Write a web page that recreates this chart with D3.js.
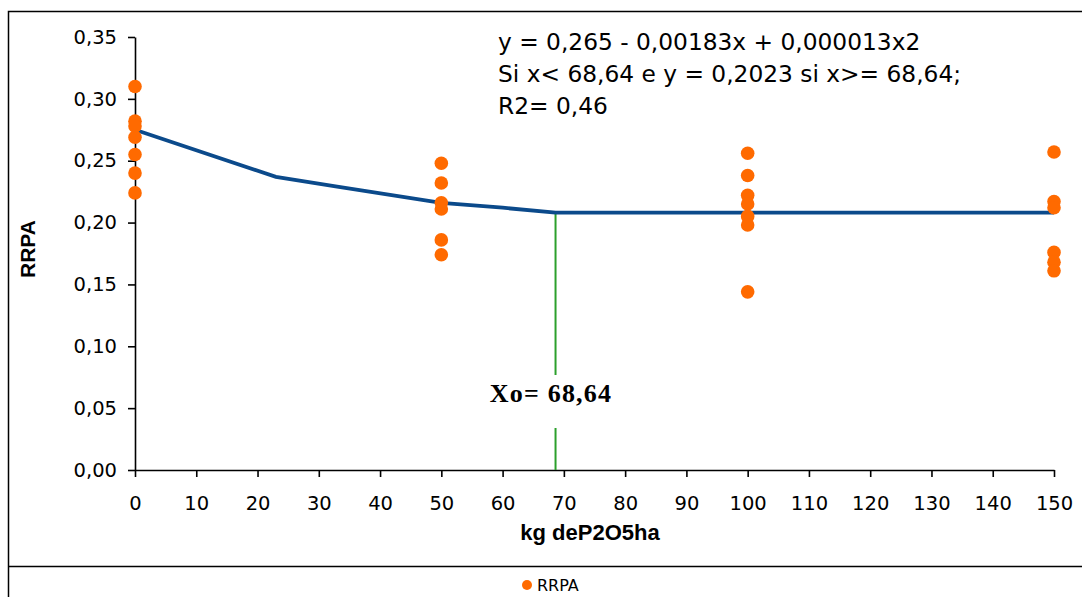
<!DOCTYPE html>
<html>
<head>
<meta charset="utf-8">
<script src="https://cdn.jsdelivr.net/npm/d3@7"></script>
<style>
  html, body { margin: 0; padding: 0; background: #fff; }
  svg { display: block; }
</style>
</head>
<body>
<svg id="chart" width="1082" height="597"></svg>
<script>
// Observed RRPA per P2O5 dose (kg/ha)
const dose0   = [0.310, 0.282, 0.278, 0.269, 0.255, 0.240, 0.224];
const dose50  = [0.248, 0.232, 0.216, 0.211, 0.186, 0.174];
const dose100 = [0.256, 0.238, 0.222, 0.215, 0.205, 0.198, 0.144];
const dose150 = [0.257, 0.217, 0.212, 0.176, 0.168, 0.161];
const doses   = [0, 50, 100, 150];

// Fitted quadratic-plateau response curve
const fitX = [0, 23, 33, 50, 60, 68.64, 150];
const fitY = [0.275, 0.237, 0.229, 0.216, 0.212, 0.208, 0.208];
const breakpoint = 68.64;

const yTicks = [0, 0.05, 0.10, 0.15, 0.20, 0.25, 0.30, 0.35];
const xTicks = [0, 10, 20, 30, 40, 50, 60, 70, 80, 90, 100, 110, 120, 130, 140, 150];

const equationLines = [
  "y = 0,265 - 0,00183x + 0,000013x2",
  "Si x< 68,64 e y = 0,2023 si x>= 68,64;",
  "R2= 0,46"
];

const svg = d3.select("#chart");
const W = 1082, H = 597;

const x = d3.scaleLinear().domain([0, 150]).range([135, 1054]);
const y = d3.scaleLinear().domain([0, 0.35]).range([470, 37]);

const fmt = v => d3.format(".2f")(v).replace(".", ",");

// Outer frame and legend separator
svg.append("path")
  .attr("d", `M8.5,${H} V11.5 H${W}`)
  .attr("fill", "none").attr("stroke", "#000").attr("stroke-width", 1.5);
svg.append("line")
  .attr("x1", 8).attr("x2", W).attr("y1", 566.5).attr("y2", 566.5)
  .attr("stroke", "#000").attr("stroke-width", 1.5);

// Axes
const yAxis = svg.append("g")
  .attr("transform", "translate(135,0)")
  .call(d3.axisLeft(y).tickValues(yTicks).tickFormat(fmt).tickSize(7).tickSizeOuter(0).tickPadding(11));
const xAxis = svg.append("g")
  .attr("transform", "translate(0,470)")
  .call(d3.axisBottom(x).tickValues(xTicks).tickFormat(d3.format("d")).tickSize(7).tickSizeOuter(0).tickPadding(19));

[yAxis, xAxis].forEach(g => {
  g.select(".domain").attr("stroke", "#000").attr("stroke-width", 1.6);
  g.selectAll(".tick line").attr("stroke", "#000").attr("stroke-width", 1.6);
  g.selectAll(".tick text")
    .attr("font-family", "'DejaVu Sans', sans-serif")
    .attr("font-size", 19.5).attr("fill", "#000");
});

// Axis titles
svg.append("text")
  .attr("transform", "translate(35,249) rotate(-90)")
  .attr("text-anchor", "middle")
  .attr("font-family", "'Liberation Sans', Arial, sans-serif")
  .attr("font-weight", "bold").attr("font-size", 21)
  .text("RRPA");
svg.append("text")
  .attr("x", 590).attr("y", 540)
  .attr("text-anchor", "middle")
  .attr("font-family", "'Liberation Sans', Arial, sans-serif")
  .attr("font-weight", "bold").attr("font-size", 22)
  .text("kg deP2O5ha");

// Breakpoint marker (vertical line, broken around its label)
const bx = x(breakpoint);
svg.append("line")
  .attr("x1", bx).attr("x2", bx).attr("y1", y(fitY[5])).attr("y2", 375)
  .attr("stroke", "#2ca02c").attr("stroke-width", 2);
svg.append("line")
  .attr("x1", bx).attr("x2", bx).attr("y1", 428).attr("y2", y(0))
  .attr("stroke", "#2ca02c").attr("stroke-width", 2);
svg.append("text")
  .attr("x", 551).attr("y", 402)
  .attr("text-anchor", "middle")
  .attr("font-family", "'Liberation Serif', 'Times New Roman', serif")
  .attr("font-weight", "bold").attr("font-size", 26).attr("letter-spacing", 1.2)
  .text("Xo= " + breakpoint.toFixed(2).replace(".", ","));

// Fitted curve
const line = d3.line().x(d => x(d[0])).y(d => y(d[1]));
svg.append("path")
  .datum(d3.zip(fitX, fitY))
  .attr("d", line)
  .attr("fill", "none").attr("stroke", "#0b4a8b").attr("stroke-width", 3.8);

// Observations
const groups = [dose0, dose50, dose100, dose150];
const pts = [];
groups.forEach((vals, i) => vals.forEach(v => pts.push([doses[i], v])));
svg.append("g").selectAll("circle")
  .data(pts).join("circle")
  .attr("cx", d => x(d[0])).attr("cy", d => y(d[1]))
  .attr("r", 6.8).attr("fill", "#ff6a00");

// Equation text
svg.append("g").selectAll("text")
  .data(equationLines).join("text")
  .attr("x", 498).attr("y", (d, i) => 50 + i * 32)
  .attr("font-family", "'DejaVu Sans', sans-serif")
  .attr("font-size", 23.3).attr("fill", "#000")
  .text(d => d);

// Legend
svg.append("circle").attr("cx", 527).attr("cy", 585).attr("r", 5).attr("fill", "#ff6a00");
svg.append("text")
  .attr("x", 537).attr("y", 591)
  .attr("font-family", "'DejaVu Sans', sans-serif")
  .attr("font-size", 16).attr("fill", "#000")
  .text("RRPA");
</script>
</body>
</html>
